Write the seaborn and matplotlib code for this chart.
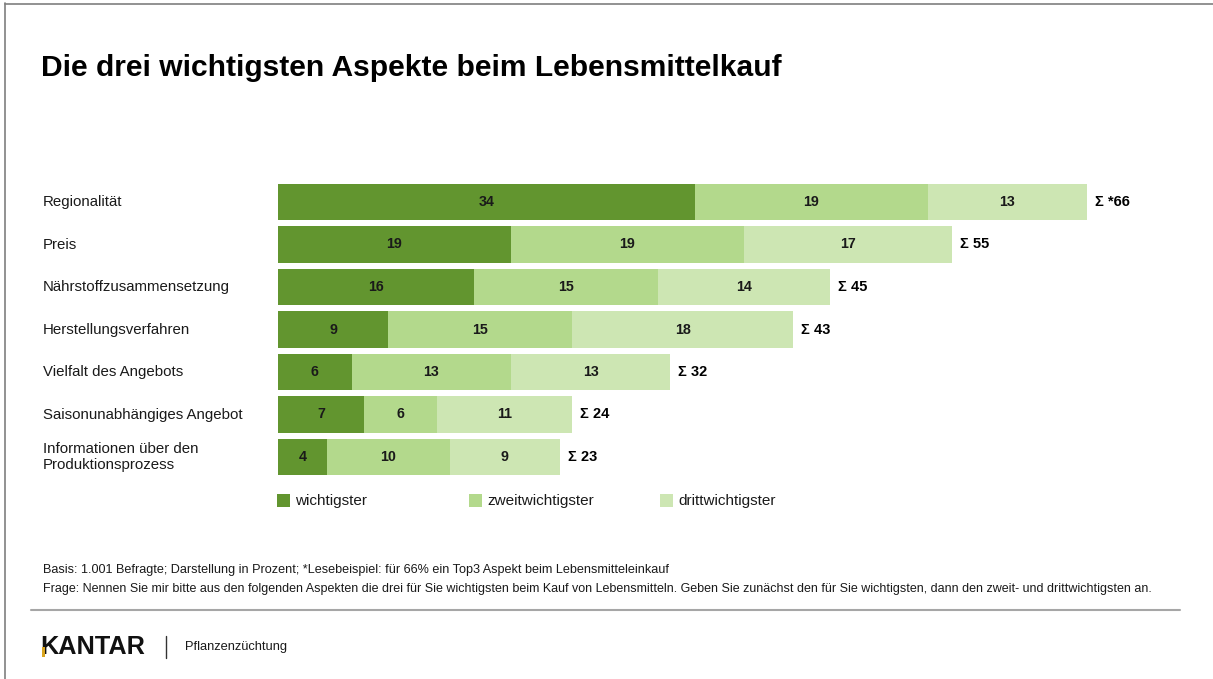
import matplotlib
matplotlib.use("Agg")
import matplotlib.pyplot as plt
import seaborn as sns
import pandas as pd
import numpy as np
from matplotlib.patches import Rectangle
from matplotlib.lines import Line2D

categories = ["Regionalität", "Preis", "Nährstoffzusammensetzung", "Herstellungsverfahren",
              "Vielfalt des Angebots", "Saisonunabhängiges Angebot",
              "Informationen über den\nProduktionsprozess"]
wichtigster = [34, 19, 16, 9, 6, 7, 4]
zweitwichtigster = [19, 19, 15, 15, 13, 6, 10]
drittwichtigster = [13, 17, 14, 18, 13, 11, 9]
totals = [66, 55, 45, 43, 32, 24, 23]
total_labels = ["Σ *66", "Σ 55", "Σ 45", "Σ 43", "Σ 32", "Σ 24", "Σ 23"]
series_names = ["wichtigster", "zweitwichtigster", "drittwichtigster"]
colors = ["#62952f", "#b3d98c", "#cde6b3"]

sns.set_theme(style="white")
plt.rcParams["font.family"] = ["Liberation Sans", "DejaVu Sans"]

W, H = 1213, 679
fig = plt.figure(figsize=(W / 100, H / 100), dpi=100)

# axes geometry in pixels
px_per_unit = 12.26
ax_left_px, ax_right_px = 278, 1180
ax_top_px = 202 - 42.5 * 0.5
ax_bot_px = ax_top_px + 42.5 * 7
ax = fig.add_axes([ax_left_px / W, 1 - ax_bot_px / H,
                   (ax_right_px - ax_left_px) / W, (ax_bot_px - ax_top_px) / H])

df = pd.DataFrame({"cat": categories, "s1": wichtigster, "s2": zweitwichtigster, "s3": drittwichtigster})
df["c1"] = df["s1"]
df["c2"] = df["s1"] + df["s2"]
df["c3"] = df["c2"] + df["s3"]

for col, color in zip(["c3", "c2", "c1"], colors[::-1]):
    sns.barplot(data=df, y="cat", x=col, orient="h", color=color, saturation=1,
                width=0.85, ax=ax, linewidth=0)

ax.set_xlim(0, (ax_right_px - ax_left_px) / px_per_unit)
ax.set_ylim(6.5, -0.5)
ax.set_xlabel("")
ax.set_ylabel("")
ax.set_xticks([])
ax.set_yticks([])
for s in ax.spines.values():
    s.set_visible(False)
ax.patch.set_alpha(0)

# segment labels
for i in range(len(categories)):
    starts = [0, df["c1"][i], df["c2"][i]]
    vals = [wichtigster[i], zweitwichtigster[i], drittwichtigster[i]]
    for st, v in zip(starts, vals):
        ax.text(st + v / 2, i, str(v), ha="center", va="center", fontsize=10.3,
                fontweight="bold", color="#1a1a1a")
    ax.text(df["c3"][i] + 0.65, i, total_labels[i], ha="left", va="center", fontsize=10.5,
            fontweight="bold", color="#000000")

# category labels
for i, c in enumerate(categories):
    y_px = 202 + 42.5 * i
    fig.text(43 / W, 1 - y_px / H, c, ha="left", va="center", fontsize=10.8,
             color="#1a1a1a", linespacing=1.1)

# title
fig.text(41 / W, 1 - 67.5 / H, "Die drei wichtigsten Aspekte beim Lebensmittelkauf",
         ha="left", va="center", fontsize=21.6, fontweight="bold", color="#000000")

# legend (manual)
leg_x = [277, 469, 660]
for x, name, color in zip(leg_x, series_names, colors):
    fig.patches.append(Rectangle((x / W, 1 - 507 / H), 13 / W, 13 / H,
                                 transform=fig.transFigure, color=color, lw=0))
    fig.text((x + 18) / W, 1 - 501 / H, name, ha="left", va="center", fontsize=11,
             color="#1a1a1a")

# footnotes
fig.text(43 / W, 1 - 570 / H,
         "Basis: 1.001 Befragte; Darstellung in Prozent; *Lesebeispiel: für 66% ein Top3 Aspekt beim Lebensmitteleinkauf",
         ha="left", va="center", fontsize=9.05, color="#1a1a1a")
fig.text(43 / W, 1 - 589 / H,
         "Frage: Nennen Sie mir bitte aus den folgenden Aspekten die drei für Sie wichtigsten beim Kauf von Lebensmitteln. Geben Sie zunächst den für Sie wichtigsten, dann den zweit- und drittwichtigsten an.",
         ha="left", va="center", fontsize=9.0, color="#1a1a1a")

# separator line
fig.add_artist(Line2D([31 / W, 1180 / W], [1 - 609.5 / H, 1 - 609.5 / H],
                      transform=fig.transFigure, color="#a6a6a6", lw=1.5))

# footer logo
fig.text(40 / W, 1 - 647 / H, "KANTAR", ha="left", va="center", fontsize=18.2,
         fontweight="bold", color="#111111")
fig.patches.append(Rectangle((41.5 / W, 1 - 657 / H), 3.2 / W, 10 / H,
                             transform=fig.transFigure, color="#d9a520", lw=0, zorder=6))
fig.add_artist(Line2D([166 / W, 166 / W], [1 - 636 / H, 1 - 658 / H],
                      transform=fig.transFigure, color="#333333", lw=1))
fig.text(185 / W, 1 - 647 / H, "Pflanzenzüchtung", ha="left", va="center",
         fontsize=9.3, color="#1a1a1a")

# frame lines (left and top)
fig.add_artist(Line2D([4.5 / W, 4.5 / W], [0, 1 - 3 / H], transform=fig.transFigure,
                      color="#7f7f7f", lw=1.2))
fig.add_artist(Line2D([4.5 / W, 1], [1 - 3.5 / H, 1 - 3.5 / H], transform=fig.transFigure,
                      color="#7f7f7f", lw=1.2))

fig.savefig("out.png", dpi=100, facecolor="white")
